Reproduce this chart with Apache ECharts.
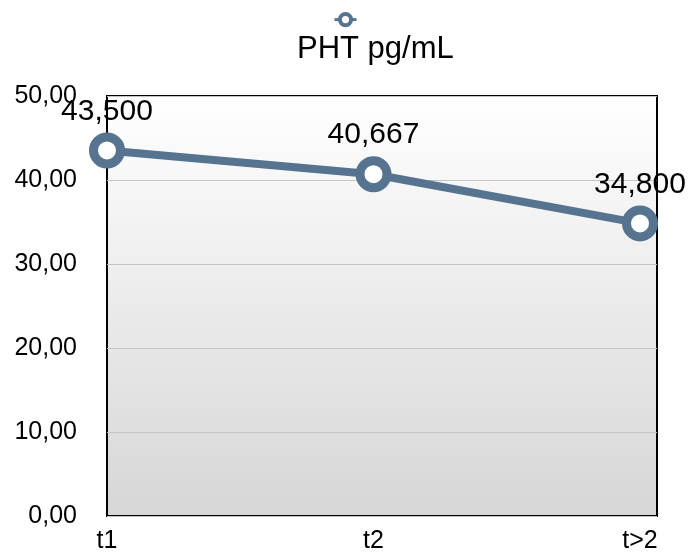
<!DOCTYPE html>
<html><head><meta charset="utf-8">
<script src="https://cdn.jsdelivr.net/npm/echarts@6/dist/echarts.min.js"></script>
<style>html,body{margin:0;padding:0;background:#fff}#c{width:691px;height:554px}</style>
</head><body><div id="c"></div>
<script>
const categories = ['t1', 't2', 't>2'];
const seriesName = 'PHT pg/mL';
const values = [43.5, 40.667, 34.8];
const yTicks = [0, 10, 20, 30, 40, 50];

const fmt = (v, d) => v.toFixed(d).replace('.', ',');
const chart = echarts.init(document.getElementById('c'));
const font = 'Liberation Sans, Arial, Helvetica, sans-serif';
chart.setOption({
  animation: false,
  title: { text: seriesName, left: 292, top: 29, textStyle: { fontFamily: font, fontSize: 31, fontWeight: 'normal', color: '#000' } },
  legend: { data: [seriesName], top: 7, left: 'center', itemWidth: 22, itemHeight: 14, itemGap: 0, formatter: () => '',
    textStyle: { fontSize: 1, padding: 0 },
    itemStyle: { borderWidth: 4 }, lineStyle: { width: 3 } },
  grid: [
    { left: 107, right: 34, top: 96, bottom: 38, show: true, borderColor: '#000', borderWidth: 2,
      backgroundColor: new echarts.graphic.LinearGradient(0, 0, 0, 1, [{ offset: 0, color: '#ffffff' }, { offset: 1, color: '#d6d6d6' }]) },
    { left: 107, right: 51, top: 96, bottom: 38 }
  ],
  xAxis: [
    { gridIndex: 0, type: 'value', min: 0, max: 1, show: false },
    { gridIndex: 1, type: 'category', data: categories, boundaryGap: false,
      axisLine: { show: false }, axisTick: { show: false },
      axisLabel: { margin: 14, fontFamily: font, fontSize: 25, color: '#000' } }
  ],
  yAxis: [
    { gridIndex: 0, type: 'value', min: yTicks[0], max: yTicks[yTicks.length - 1], interval: 10,
      axisLine: { show: false }, axisTick: { show: false },
      splitLine: { lineStyle: { color: '#c4c4c4', width: 1 } },
      axisLabel: { margin: 30, fontFamily: font, fontSize: 25, color: '#000', formatter: v => fmt(v, 2) } },
    { gridIndex: 1, type: 'value', min: yTicks[0], max: yTicks[yTicks.length - 1], show: false }
  ],
  series: [{
    name: seriesName, type: 'line', xAxisIndex: 1, yAxisIndex: 1, data: values,
    symbol: 'circle', symbolSize: 27,
    lineStyle: { color: '#56738f', width: 8 },
    itemStyle: { color: '#ffffff', borderColor: '#56738f', borderWidth: 9 },
    label: { show: true, position: 'top', distance: 6, fontFamily: font, fontSize: 30, color: '#000', formatter: p => fmt(p.value, 3) },
    z: 5
  }]
});
</script></body></html>
